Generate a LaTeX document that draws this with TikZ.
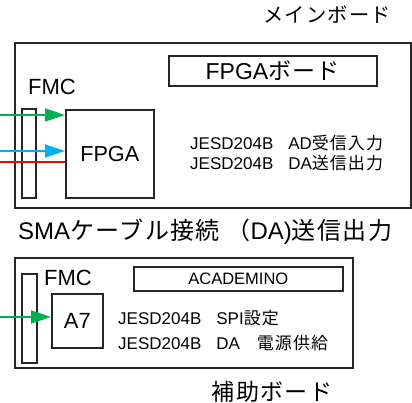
\documentclass[tikz,border=0pt]{standalone}
\usepackage{fontspec}
\setmainfont{Liberation Sans}
\newfontfamily\cjk[LetterSpace=6]{Noto Sans CJK JP}
\newcommand\jp[1]{{\cjk #1}}
\usetikzlibrary{arrows.meta}
\definecolor{ggreen}{RGB}{0,176,80}
\definecolor{gblue}{RGB}{0,176,240}
\definecolor{gred}{RGB}{255,0,0}
\tikzset{
 box/.style={draw=black!85, line width=1.6pt, inner sep=0pt, anchor=north west},
 fs/.style={font=\fontsize{#1}{#1}\selectfont, inner sep=0pt},
 sig/.style={line width=1.8pt, -{Triangle[length=20pt,width=13pt]}},
 wire/.style={line width=1.8pt},
}
\begin{document}
\begin{tikzpicture}[x=1pt,y=-1pt]
\useasboundingbox (0,0) rectangle (412,403);
% main board
\node[box, minimum width=396pt, minimum height=165pt] (main) at (14,42) {};
\node[box, minimum width=208pt, minimum height=30pt] (fpgab) at (168,55) {};
\node[fs=23] at (fpgab.center) {FPGA\jp{ボード}};
\node[box, minimum width=14pt, minimum height=89pt] (fmc1) at (21,108) {};
\node[box, minimum width=88pt, minimum height=88pt] (fpga) at (65,109) {};
\node[fs=21.7] at (fpga.center) {FPGA};
\node[fs=20.3] (mainlbl) at (327,15) {\jp{メインボード}};
\node[fs=22] (fmc1lbl) at (52,87) {FMC};
\node[fs=17, anchor=west] (l1) at (190,143) {JESD204B\hspace{15pt}AD\jp{受信入力}};
\node[fs=17, anchor=west] (l2) at (190,163) {JESD204B\hspace{15pt}DA\jp{送信出力}};
% signals
\coordinate (gin1) at (0,115);
\coordinate (bin) at (0,151);
\coordinate (rin) at (0,162);
\draw[sig, ggreen] (gin1) -- (fpga.west |- gin1);
\draw[sig, gblue] (bin) -- (fpga.west |- bin);
\draw[wire, gred] (rin) -- (fpga.west |- rin);
% middle text
\node[fs=24, anchor=west] (mid) at (18,232) {SMA\jp{ケーブル接続} \jp{（}DA)\jp{送信出力}};
% aux board
\node[box, minimum width=338pt, minimum height=110pt] (aux) at (14,257) {};
\node[box, minimum width=15pt, minimum height=89pt] (fmc2) at (21,273) {};
\node[box, minimum width=209pt, minimum height=24pt] (acad) at (133,266) {};
\node[fs=16.5] at (acad.center) {ACADEMINO};
\node[box, minimum width=51pt, minimum height=54pt] (a7) at (51,293) {};
\node[fs=22] at (a7.center) {A7};
\node[fs=22] (fmc2lbl) at (68,278) {FMC};
\node[fs=17, anchor=west] (l3) at (118,318) {JESD204B\hspace{15pt}SPI\jp{設定}};
\node[fs=17, anchor=west] (l4) at (118,343) {JESD204B\hspace{15pt}DA\hspace{17pt}\jp{電源供給}};
\node[fs=23] (auxlbl) at (272,392) {\jp{補助ボード}};
\coordinate (gin2) at (0,317);
\draw[sig, ggreen] (gin2) -- (a7.west |- gin2);
\end{tikzpicture}
\end{document}
